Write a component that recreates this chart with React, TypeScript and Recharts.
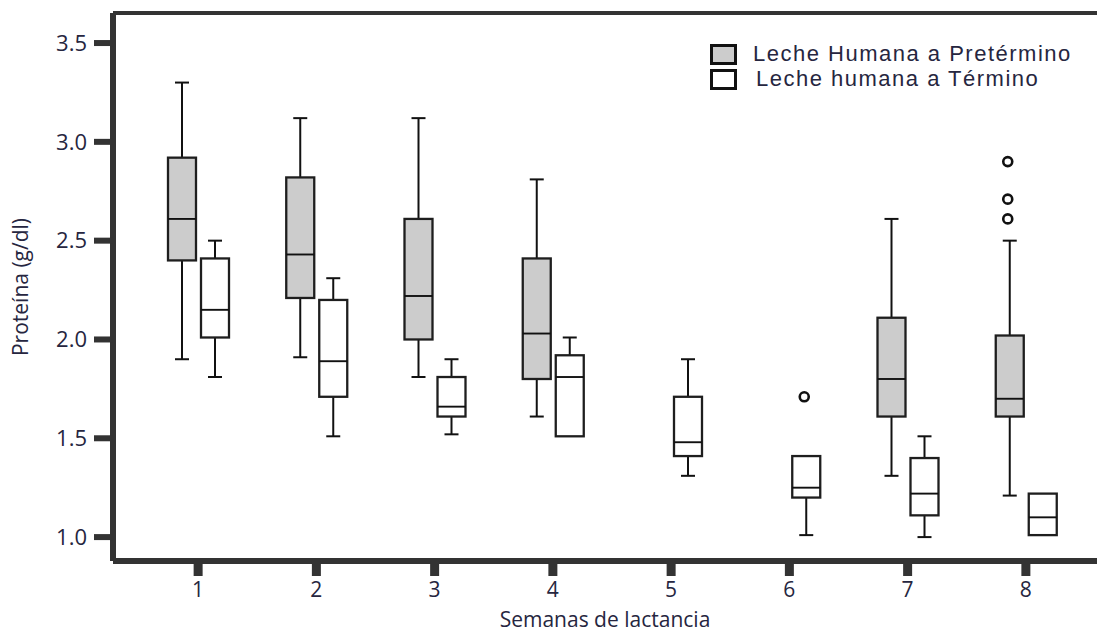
import React from 'react';
import { ComposedChart, Bar, XAxis, YAxis, Legend, Label, ReferenceLine } from 'recharts';

const weeks = ['1', '2', '3', '4', '5', '6', '7', '8'];

// Leche humana a pretérmino (gray boxes)
const preMin = [1.9, 1.91, 1.81, 1.61, null, null, 1.31, 1.21];
const preQ1 = [2.4, 2.21, 2.0, 1.8, null, null, 1.61, 1.61];
const preMed = [2.61, 2.43, 2.22, 2.03, null, null, 1.8, 1.7];
const preQ3 = [2.92, 2.82, 2.61, 2.41, null, null, 2.11, 2.02];
const preMax = [3.3, 3.12, 3.12, 2.81, null, null, 2.61, 2.5];
const preOut: number[][] = [[], [], [], [], [], [], [], [2.61, 2.71, 2.9]];

// Leche humana a término (white boxes)
const termMin = [1.81, 1.51, 1.52, 1.51, 1.31, 1.01, 1.0, 1.01];
const termQ1 = [2.01, 1.71, 1.61, 1.51, 1.41, 1.2, 1.11, 1.01];
const termMed = [2.15, 1.89, 1.66, 1.81, 1.48, 1.25, 1.22, 1.1];
const termQ3 = [2.41, 2.2, 1.81, 1.92, 1.71, 1.41, 1.4, 1.22];
const termMax = [2.5, 2.31, 1.9, 2.01, 1.9, 1.41, 1.51, 1.22];
const termOut: number[][] = [[], [], [], [], [], [1.71], [], []];

const yTicks = [1.0, 1.5, 2.0, 2.5, 3.0, 3.5];
const yDomain = [0.879, 3.652];
const seriesNames = ['Leche Humana a Pretérmino', 'Leche humana a Término'];

const data = weeks.map((w, i) => ({
  week: w,
  preMin: preMin[i], preQ1: preQ1[i], preMed: preMed[i], preQ3: preQ3[i], preMax: preMax[i], preOut: preOut[i],
  termMin: termMin[i], termQ1: termQ1[i], termMed: termMed[i], termQ3: termQ3[i], termMax: termMax[i], termOut: termOut[i],
}));

const FONT = '"Open Sans", "DejaVu Sans", sans-serif';
const LEGEND_FONT = '"Liberation Sans", Arial, sans-serif';
const TEXT = '#262640';
const GRAY = '#cccccc';

function makeBoxShape(prefix: string, fill: string) {
  return (props: any) => {
    const { x, y, width, height, payload } = props;
    const q1 = payload[prefix + 'Q1'];
    const q3 = payload[prefix + 'Q3'];
    if (q1 == null || q3 == null || !isFinite(y) || !isFinite(height)) return <g />;
    const med = payload[prefix + 'Med'];
    const mn = payload[prefix + 'Min'];
    const mx = payload[prefix + 'Max'];
    const outs: number[] = payload[prefix + 'Out'] || [];
    const top = Math.min(y, y + height);
    const h = Math.abs(height);
    const ppu = h / (q3 - q1);
    const py = (v: number) => top + (q3 - v) * ppu;
    const cx = x + width / 2;
    const cap = 7;
    const wStroke = '#111';
    return (
      <g>
        {mx > q3 && (
          <g>
            <line x1={cx} x2={cx} y1={py(mx)} y2={top} stroke={wStroke} strokeWidth={2} />
            <line x1={cx - cap} x2={cx + cap} y1={py(mx)} y2={py(mx)} stroke={wStroke} strokeWidth={2} />
          </g>
        )}
        {mn < q1 && (
          <g>
            <line x1={cx} x2={cx} y1={top + h} y2={py(mn)} stroke={wStroke} strokeWidth={2} />
            <line x1={cx - cap} x2={cx + cap} y1={py(mn)} y2={py(mn)} stroke={wStroke} strokeWidth={2} />
          </g>
        )}
        <rect x={x} y={top} width={width} height={h} fill={fill} stroke="#1e1e1e" strokeWidth={2.3} />
        <line x1={x} x2={x + width} y1={py(med)} y2={py(med)} stroke="#111" strokeWidth={1.9} />
        {outs.map((o, k) => (
          <circle key={k} cx={cx - 2} cy={py(o)} r={4.5} fill="#fff" stroke="#111" strokeWidth={2.6} />
        ))}
      </g>
    );
  };
}

const preShape = makeBoxShape('pre', GRAY);
const termShape = makeBoxShape('term', '#ffffff');

const renderLegend = (props: any) => {
  const items = props.payload || [];
  return (
    <div style={{ position: 'relative', fontFamily: LEGEND_FONT }}>
      {items.map((it: any, i: number) => (
        <div key={i} style={{ position: 'relative', height: 25 }}>
          <div
            style={{
              position: 'absolute', left: 0, top: 3, width: 27, height: 21, boxSizing: 'border-box',
              border: '3.5px solid #111', background: it.color,
            }}
          />
          <div
            style={{
              position: 'absolute', left: 43 + i * 3, top: 0, height: 25, lineHeight: '25px', fontSize: 22,
              letterSpacing: '1.5px', color: TEXT, whiteSpace: 'nowrap',
            }}
          >
            {it.value}
          </div>
        </div>
      ))}
    </div>
  );
};

export default function App() {
  return (
    <div style={{ position: 'absolute', left: 0, top: 0, background: '#fff' }}>
      <ComposedChart
        width={1097}
        height={634}
        data={data}
        margin={{ top: 13, right: 0, left: 0, bottom: 0 }}
        barSize={28}
        barGap={5}
      >
        <XAxis
          dataKey="week"
          type="category"
          height={73}
          padding={{ left: 26, right: 12 }}
          axisLine={{ stroke: '#333', strokeWidth: 6 }}
          tickLine={{ stroke: '#333', strokeWidth: 9 }}
          tickSize={15}
          tickMargin={6}
          tick={{ fontSize: 21, fill: TEXT, fontFamily: FONT }}
        >
          <Label
            content={(p: any) => {
              const vb = p.viewBox;
              return (
                <text x={vb.x + vb.width / 2} y={627} textAnchor="middle" fontSize={21} fill={TEXT} fontFamily={FONT}>
                  Semanas de lactancia
                </text>
              );
            }}
          />
        </XAxis>
        <YAxis
          type="number"
          domain={yDomain}
          ticks={yTicks}
          allowDataOverflow
          width={113}
          tickFormatter={(v: number) => v.toFixed(1)}
          axisLine={{ stroke: '#333', strokeWidth: 6 }}
          tickLine={{ stroke: '#333', strokeWidth: 6 }}
          tickSize={19}
          tickMargin={7}
          tick={{ fontSize: 22, fill: TEXT, fontFamily: FONT }}
        >
          <Label
            content={() => (
              <text
                x={28}
                y={287}
                textAnchor="middle"
                fontSize={21}
                fill={TEXT}
                fontFamily={FONT}
                transform="rotate(-90 28 287)"
              >
                Proteína (g/dl)
              </text>
            )}
          />
        </YAxis>
        <ReferenceLine y={yDomain[1]} stroke="#333" strokeWidth={4} ifOverflow="visible" />
        <Legend
          layout="vertical"
          align="center"
          verticalAlign="middle"
          wrapperStyle={{ position: 'absolute', left: 710, top: 41, width: 380, height: 50 }}
          content={renderLegend}
        />
        <Bar
          name={seriesNames[0]}
          dataKey={(d: any) => (d.preQ1 == null ? undefined : [d.preQ1, d.preQ3])}
          fill={GRAY}
          shape={preShape}
          isAnimationActive={false}
        />
        <Bar
          name={seriesNames[1]}
          dataKey={(d: any) => (d.termQ1 == null ? undefined : [d.termQ1, d.termQ3])}
          fill="#ffffff"
          shape={termShape}
          isAnimationActive={false}
        />
      </ComposedChart>
    </div>
  );
}
